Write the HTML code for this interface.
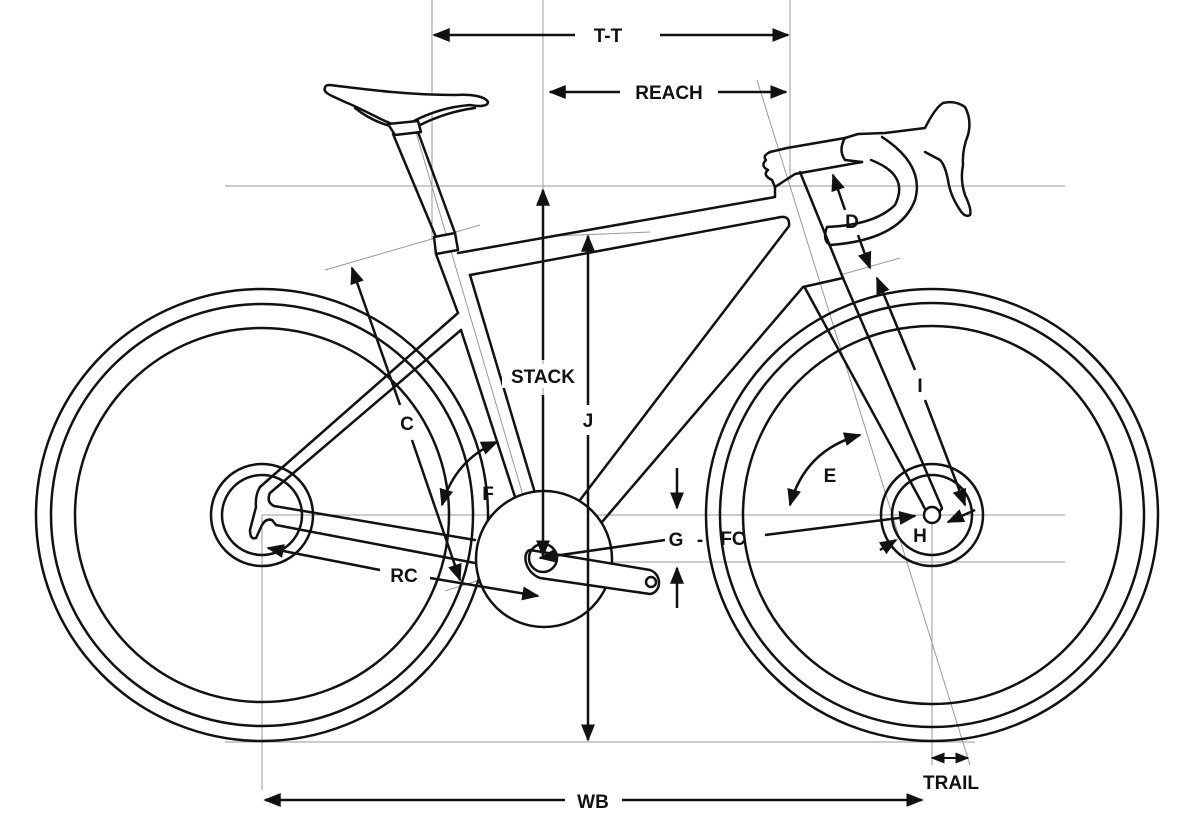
<!DOCTYPE html>
<html><head><meta charset="utf-8"><style>
html,body{margin:0;padding:0;background:#fff;}
svg{display:block}
text{font-family:"Liberation Sans",sans-serif;font-weight:bold;font-size:19px;fill:#111;}
</style></head><body>
<svg width="1200" height="832" viewBox="0 0 1200 832" xmlns="http://www.w3.org/2000/svg">
<defs>
<marker id="a" viewBox="0 0 10 10" refX="9" refY="5" markerWidth="7" markerHeight="7" orient="auto-start-reverse"><path d="M0,1 L10,5 L0,9 Z" fill="#111"/></marker>
</defs>
<g stroke="#999" stroke-width="1" fill="none">
<line x1="225" y1="186" x2="1065" y2="186"/>
<line x1="262" y1="515" x2="1065" y2="515"/>
<line x1="540" y1="562" x2="1065" y2="562"/>
<line x1="225" y1="742" x2="975" y2="742"/>
<line x1="432" y1="0" x2="432" y2="240"/>
<line x1="543" y1="0" x2="543" y2="560"/>
<line x1="790" y1="0" x2="790" y2="180"/>
<line x1="262" y1="515" x2="262" y2="790"/>
<line x1="932" y1="515" x2="932" y2="765"/>
<line x1="757" y1="80" x2="970" y2="765"/>
<line x1="405" y1="95" x2="545" y2="570"/>
<line x1="325" y1="270" x2="480" y2="225"/>
<line x1="840" y1="275" x2="900" y2="258"/>
<line x1="555" y1="236" x2="650" y2="232"/>
<line x1="445" y1="591" x2="480" y2="580"/>
</g>
<g stroke="#111" stroke-width="2.5" fill="none">
<circle cx="262" cy="515" r="226"/>
<circle cx="262" cy="515" r="211"/>
<circle cx="262" cy="515" r="187"/>
<circle cx="262" cy="515" r="51"/>
<circle cx="262" cy="515" r="40"/>
<circle cx="932" cy="515" r="226"/>
<circle cx="932" cy="515" r="212"/>
<circle cx="932" cy="515" r="189"/>
<circle cx="932" cy="515" r="51"/>
<circle cx="932" cy="515" r="40"/>
</g>
<g stroke="#111" stroke-width="2.5" fill="none" stroke-linejoin="round" stroke-linecap="round">
<path d="M325,88 C322,93 335,97 345,102 C365,110 380,120 395,125 L412,122 C425,115 445,107 470,105 C480,107 488,106 488,102 C485,96 470,94 455,95 C410,95 370,90 330,85 C326,85 325,86 325,88 Z" fill="#fff"/>
<path d="M355,108 C370,120 385,125 395,127 M420,125 C440,115 460,110 475,108"/>
<path d="M388,124 L418,121 L421,132 L395,135 Z" fill="#fff"/>
<path d="M393,134 L436,237 M418,132 L455,233"/>
<path d="M434,237 L455,233 L458,250 L436,254 Z" fill="#fff"/>
<path d="M436,254 L458,313"/>
<path d="M470,275 L535,493"/>
<path d="M461,330 L515,497"/>
<path d="M458,253 L775,197 L775,187"/>
<path d="M470,275 L781,217 Q790,216 789,226 L580,500"/>
<path d="M602,522 L803,287 L843,278"/>
<path d="M458,313 L260,487"/>
<path d="M461,330 L270,493"/>
<path d="M260,487 Q255,495 256,507 L250,530 Q250,540 256,538 L262,525 Q266,518 272,520 L276,525"/>
<path d="M270,493 Q266,502 274,506"/>
<path d="M274,506 L475,540"/>
<path d="M276,525 L475,563"/>
<path d="M800,172 L843,278"/>
<path d="M805,288 L922,503 Q932,526 942,508 L843,278"/>
<path d="M775,187 L795,174 L862,162"/>
<path d="M770,152 L787,148 L845,138"/>
<path d="M770,152 Q762,156 766,160 Q760,166 768,170 Q762,175 772,180 L775,187"/>
<path d="M845,138 Q838,150 845,160 L862,162 M845,138 L858,134"/>
<path d="M858,134 L885,133 L925,128 Q935,108 943,103 Q955,100 965,107 Q972,120 968,135 Q962,150 963,165 Q960,180 965,195 Q972,210 970,215 Q965,218 960,210 Q950,195 948,180 Q945,165 940,160 L925,152"/>
<path d="M882,137 Q925,165 915,200 Q900,240 830,245 Q822,240 827,227 Q875,225 895,205 Q910,175 871,160"/>
<circle cx="544" cy="559" r="68" fill="#fff"/>
<path d="M530,550 L650,570 C662,574 662,592 650,594 L540,578 C524,572 522,552 530,550 Z" fill="#fff"/>
<circle cx="543" cy="558" r="14"/>
<circle cx="651" cy="582" r="5"/>
<circle cx="932" cy="515" r="8" fill="#fff"/>
</g>
<g stroke="#111" stroke-width="2.5" fill="none" marker-start="url(#a)" marker-end="url(#a)">
<line x1="434" y1="35" x2="575" y2="35" marker-end="none"/>
<line x1="660" y1="35" x2="788" y2="35" marker-start="none"/>
<line x1="550" y1="92" x2="620" y2="92" marker-end="none"/>
<line x1="718" y1="92" x2="786" y2="92" marker-start="none"/>
<line x1="543" y1="190" x2="543" y2="360" marker-end="none"/>
<line x1="543" y1="395" x2="543" y2="556" marker-start="none"/>
<line x1="588" y1="236" x2="588" y2="405" marker-end="none"/>
<line x1="588" y1="435" x2="588" y2="740" marker-start="none"/>
<line x1="352" y1="268" x2="400" y2="405" marker-end="none"/>
<line x1="412" y1="440" x2="460" y2="580" marker-start="none"/>
<line x1="268" y1="548" x2="380" y2="570" marker-end="none"/>
<line x1="430" y1="578" x2="538" y2="596" marker-start="none"/>
<line x1="265" y1="800" x2="565" y2="800" marker-end="none"/>
<line x1="622" y1="800" x2="922" y2="800" marker-start="none"/>
<line x1="833" y1="175" x2="845" y2="210" marker-end="none"/>
<line x1="858" y1="235" x2="870" y2="268" marker-start="none"/>
<line x1="877" y1="278" x2="915" y2="370" marker-end="none"/>
<line x1="925" y1="400" x2="965" y2="505" marker-start="none"/>
<line x1="540" y1="558" x2="665" y2="540" marker-end="none" marker-start="url(#a)"/>
<line x1="765" y1="535" x2="915" y2="516" marker-start="none"/>
<path d="M497,442 Q455,460 442,505" />
<path d="M860,435 Q805,450 790,505"/>
</g>
<g stroke="#111" stroke-width="2.5" fill="none" marker-end="url(#a)">
<line x1="677" y1="468" x2="677" y2="508"/>
<line x1="677" y1="608" x2="677" y2="568"/>
<line x1="880" y1="550" x2="896" y2="540"/>
<line x1="975" y1="510" x2="948" y2="522"/>
</g>
<g stroke="#111" stroke-width="2" fill="none">
<line x1="932" y1="758" x2="968" y2="758" marker-start="url(#a)" marker-end="url(#a)"/>
</g>
<g text-anchor="middle">
<text x="608" y="42">T-T</text>
<text x="669" y="99">REACH</text>
<rect x="502" y="364" width="82" height="24" fill="#fff"/>
<text x="543" y="383">STACK</text>
<text x="588" y="427">J</text>
<text x="407" y="430">C</text>
<text x="488" y="500">F</text>
<text x="830" y="482">E</text>
<text x="852" y="228">D</text>
<text x="920" y="392">I</text>
<text x="676" y="546">G</text>
<text x="700" y="546">-</text>
<text x="733" y="545">FC</text>
<text x="920" y="542">H</text>
<text x="404" y="582">RC</text>
<text x="593" y="808">WB</text>
<text x="951" y="789">TRAIL</text>
</g>
</svg>
</body></html>
